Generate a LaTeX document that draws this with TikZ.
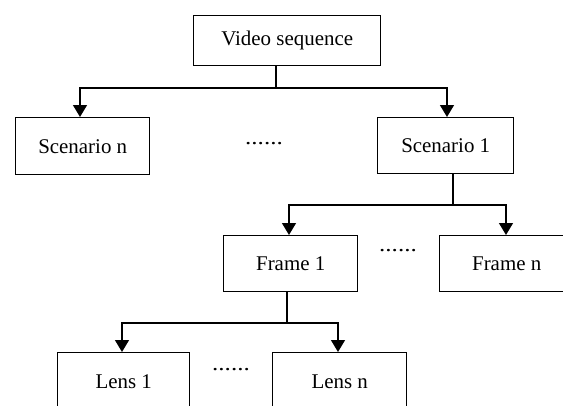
\documentclass[tikz,border=0pt]{standalone}
\usepackage{fontspec}
\setmainfont{Liberation Serif}
\usetikzlibrary{arrows.meta}
\begin{document}
\begin{tikzpicture}[x=1bp,y=-1bp,
  box/.style={draw,line width=1.4bp,inner sep=0pt,anchor=north west,
    font=\fontsize{21}{24}\selectfont},
  link/.style={line width=1.4bp},
  arr/.style={line width=1.4bp,-{Triangle[width=14bp,length=12bp]}},
  dots/.style={font=\fontsize{21}{24}\selectfont,inner sep=0pt}]
\useasboundingbox (0,0) rectangle (563,405);
\clip (0,0) rectangle (563,405);
% boxes, placed by their top-left corners
\node[box,minimum width=187bp,minimum height=50bp] (video) at (193,15) {Video sequence};
\node[box,minimum width=134bp,minimum height=57bp] (scn) at (15,117) {Scenario n};
\node[box,minimum width=136bp,minimum height=56bp] (sc1) at (377,117) {Scenario 1};
\node[box,minimum width=134bp,minimum height=56bp] (f1) at (223,235) {Frame 1};
\node[box,minimum width=134bp,minimum height=56bp] (fn) at (439,235) {Frame n};
\node[box,minimum width=132bp,minimum height=58bp] (l1) at (57,352) {Lens 1};
\node[box,minimum width=134bp,minimum height=58bp] (ln) at (272,352) {Lens n};
% ellipses between siblings
\node[dots] (d1) at (264,144) {\scalebox{1.2}[1]{......}};
\node[dots] (d2) at (398,251) {\scalebox{1.2}[1]{......}};
\node[dots] (d3) at (231,370) {\scalebox{1.2}[1]{......}};
% branching connectors
\coordinate (j1) at (276,88);
\coordinate (j2) at (453,205);
\coordinate (j3) at (287,323);
\draw[link] (video.south -| j1) -- (j1);
\draw[arr] (j1) -| (scn.north -| 80,0);
\draw[arr] (j1) -| (sc1.north -| 447,0);
\draw[link] (sc1.south -| j2) -- (j2);
\draw[arr] (j2) -| (f1.north -| 289,0);
\draw[arr] (j2) -| (fn.north -| 506,0);
\draw[link] (f1.south -| j3) -- (j3);
\draw[arr] (j3) -| (l1.north -| 122,0);
\draw[arr] (j3) -| (ln.north -| 338,0);
\end{tikzpicture}
\end{document}
